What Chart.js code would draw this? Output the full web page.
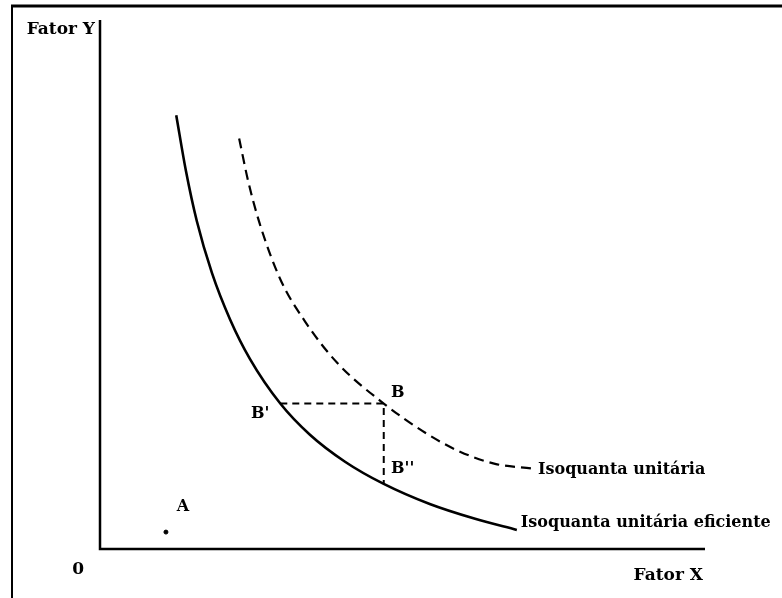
<!DOCTYPE html>
<html>
<head>
<meta charset="utf-8">
<script src="https://cdn.jsdelivr.net/npm/chart.js@4/dist/chart.umd.min.js"></script>
<style>
  body { margin: 0; background: #fff; }
  canvas { display: block; }
</style>
</head>
<body>
<canvas id="myChart" width="782" height="598"></canvas>
<script>
// isoquanta eficiente (linha cheia)
const solidX = [1.26, 1.42, 1.60, 1.85, 2.15, 2.48, 2.98, 3.47, 4.05, 4.69, 5.45, 6.20, 6.89];
const solidY = [8.20, 7.15, 6.20, 5.22, 4.34, 3.59, 2.75, 2.16, 1.65, 1.23, 0.85, 0.57, 0.36];
// isoquanta unitaria (tracejada)
const dashedX = [2.30, 2.45, 2.64, 2.98, 3.39, 3.92, 4.69, 5.40, 5.95, 6.53, 7.14];
const dashedY = [7.76, 6.95, 6.15, 5.10, 4.30, 3.52, 2.75, 2.18, 1.84, 1.61, 1.52];
// pontos nomeados
const pointNames = ["A", "B", "B'", "B''"];
const pointX = [1.09, 4.69, 2.98, 4.69];
const pointY = [0.32, 2.75, 2.75, 1.23];
// textos
const curveLabels = ["Isoquanta unitária eficiente", "Isoquanta unitária"];
const axisTitleX = "Fator X";
const axisTitleY = "Fator Y";
const originLabel = "0";

const toXY = (xs, ys) => xs.map((x, i) => ({ x: x, y: ys[i] }));
const pt = (name) => {
  const i = pointNames.indexOf(name);
  return { x: pointX[i], y: pointY[i] };
};

const FONT = "bold 16px 'DejaVu Serif'";
const AXIS_FONT = "bold 17px 'DejaVu Serif'";

//desenha moldura, eixos e textos
const plugin = {
  id: "drawing",
  beforeDraw: (chart) => {
    const ctx = chart.ctx;
    ctx.save();
    ctx.fillStyle = "white";
    ctx.fillRect(0, 0, chart.width, chart.height);
    ctx.restore();
  },
  afterDraw: (chart) => {
    const ctx = chart.ctx;
    const xs = chart.scales.x, ys = chart.scales.y;
    const x0 = xs.getPixelForValue(0), y0 = ys.getPixelForValue(0);
    const area = chart.chartArea;
    ctx.save();
    ctx.strokeStyle = "#000";
    ctx.lineCap = "butt";
    // moldura
    ctx.lineWidth = 3;
    ctx.beginPath();
    ctx.moveTo(11, 6); ctx.lineTo(782, 6);
    ctx.stroke();
    ctx.lineWidth = 2;
    ctx.beginPath();
    ctx.moveTo(12, 5); ctx.lineTo(12, 598);
    ctx.stroke();
    // eixos
    ctx.lineWidth = 2.5;
    ctx.beginPath();
    ctx.moveTo(x0, area.top); ctx.lineTo(x0, y0); ctx.lineTo(area.right, y0);
    ctx.stroke();

    ctx.fillStyle = "#000";
    ctx.font = AXIS_FONT;
    ctx.textBaseline = "middle";
    ctx.textAlign = "right";
    ctx.fillText(axisTitleY, x0 - 5, area.top + 10);
    ctx.fillText(axisTitleX, area.right - 2, y0 + 27);
    ctx.fillText(originLabel, x0 - 16, y0 + 21);

    // rotulos das curvas
    ctx.font = FONT;
    ctx.textAlign = "left";
    const sEnd = solidX.length - 1, dEnd = dashedX.length - 1;
    ctx.fillText(curveLabels[0], xs.getPixelForValue(solidX[sEnd]) + 4, ys.getPixelForValue(solidY[sEnd]) - 7);
    const dx = xs.getPixelForValue(dashedX[dEnd]), dy = ys.getPixelForValue(dashedY[dEnd]);
    ctx.fillText(curveLabels[1], dx + 6, dy + 1);

    // rotulos dos pontos
    const offsets = { "A": [17, -25], "B": [14, -11], "B'": [-20, 10], "B''": [19, -15] };
    ctx.textAlign = "center";
    for (var i = 0; i < pointNames.length; i++) {
      const px = xs.getPixelForValue(pointX[i]), py = ys.getPixelForValue(pointY[i]);
      const o = offsets[pointNames[i]];
      ctx.fillText(pointNames[i], px + o[0], py + o[1]);
    }
    ctx.restore();
  },
};

const data = {
  datasets: [
    {
      label: "eficiente",
      data: toXY(solidX, solidY),
      borderColor: "#000",
      borderWidth: 2.6,
      pointRadius: 0,
      cubicInterpolationMode: "monotone",
      showLine: true,
    },
    {
      label: "unitaria",
      data: toXY(dashedX, dashedY),
      borderColor: "#000",
      borderWidth: 2.2,
      borderDash: [10, 6],
      pointRadius: 0,
      cubicInterpolationMode: "monotone",
      showLine: true,
    },
    {
      label: "projecoes",
      data: [pt("B'"), pt("B"), pt("B''")],
      borderColor: "#000",
      borderWidth: 2,
      borderDash: [7, 5],
      pointRadius: 0,
      tension: 0,
      showLine: true,
    },
    {
      label: "A",
      data: [pt("A")],
      backgroundColor: "#000",
      borderColor: "#000",
      pointRadius: 2,
      showLine: false,
    },
  ],
};

const config = {
  type: "scatter",
  data: data,
  plugins: [plugin],
  options: {
    responsive: false,
    animation: false,
    devicePixelRatio: 1,
    layout: { padding: { left: 100, right: 77, top: 20, bottom: 49 } },
    plugins: { legend: { display: false }, tooltip: { enabled: false } },
    scales: {
      x: { type: "linear", min: 0, max: 10, display: false },
      y: { type: "linear", min: 0, max: 10, display: false },
    },
  },
};
new Chart(document.getElementById("myChart"), config);
</script>
</body>
</html>
